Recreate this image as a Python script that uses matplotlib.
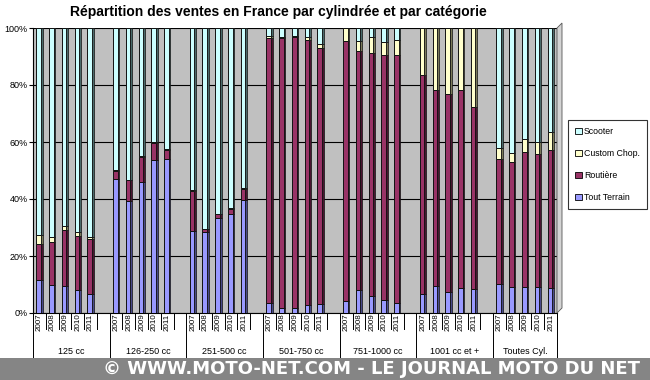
import numpy as np
import matplotlib
matplotlib.use("Agg")
import matplotlib.pyplot as plt
from matplotlib.patches import Rectangle, Polygon
from matplotlib.transforms import blended_transform_factory

plt.rcParams["font.family"] = ["Liberation Sans", "DejaVu Sans"]

# data (% of sales)
groups = ["125 cc", "126-250 cc", "251-500 cc", "501-750 cc",
          "751-1000 cc", "1001 cc et +", "Toutes Cyl."]
years = ["2007", "2008", "2009", "2010", "2011"]

tout_terrain = [
    11.7, 9.7, 9.5, 8.2, 6.8,
    46.9, 39.3, 46.0, 53.8, 54.2,
    28.7, 28.4, 33.2, 34.8, 39.6,
    3.5, 1.9, 1.9, 2.7, 3.0,
    4.1, 8.2, 5.9, 4.5, 3.6,
    6.6, 9.5, 7.4, 8.8, 8.4,
    10.3, 9.1, 9.0, 9.0, 8.6,
]
routiere = [
    12.4, 15.3, 19.5, 18.8, 19.2,
    3.0, 7.2, 8.9, 6.0, 3.0,
    14.1, 0.9, 1.5, 1.7, 4.0,
    93.0, 94.7, 94.9, 93.2, 90.0,
    91.2, 83.6, 85.5, 86.1, 87.0,
    77.0, 68.8, 69.5, 69.5, 63.8,
    43.9, 43.8, 47.5, 46.7, 48.5,
]
custom_chop = [
    3.4, 1.5, 1.5, 1.4, 0.7,
    0.3, 0.2, 0.2, 0.2, 0.2,
    0.2, 0.2, 0.2, 0.2, 0.2,
    0.8, 0.3, 0.3, 1.1, 1.4,
    4.7, 3.5, 5.4, 4.4, 5.1,
    16.4, 21.7, 23.1, 21.7, 27.8,
    3.8, 3.4, 4.5, 4.4, 6.4,
]
scooter = [
    72.5, 73.5, 69.5, 71.6, 73.3,
    49.8, 53.3, 44.9, 40.0, 42.6,
    57.0, 70.5, 65.1, 63.3, 56.2,
    2.7, 3.1, 2.9, 3.0, 5.6,
    0.0, 4.7, 3.2, 5.0, 4.3,
    0.0, 0.0, 0.0, 0.0, 0.0,
    42.0, 43.7, 39.0, 39.9, 36.5,
]

series = [
    ("Tout Terrain", tout_terrain, "#9999ff", "#4a4a8a"),
    ("Routière", routiere, "#993366", "#4a1530"),
    ("Custom Chop.", custom_chop, "#ffffcc", "#7a7a5a"),
    ("Scooter", scooter, "#ccffff", "#4a6a6a"),
]

W, H = 650, 380
fig = plt.figure(figsize=(W / 100, H / 100), dpi=100)
ax_l, ax_r, ax_t, ax_b = 33, 557, 28, 313
ax = fig.add_axes([ax_l / W, 1 - ax_b / H, (ax_r - ax_l) / W, (ax_b - ax_t) / H])
ax.set_facecolor("#c0c0c0")

n_slots = 6 * len(groups) - 1
pos = np.array([6 * g + j for g in range(len(groups)) for j in range(len(years))])

face_w = 0.36
side_w = 0.13
bottom = np.zeros(len(pos))
for name, vals, col, dark in series:
    vals = np.array(vals)
    ax.bar(pos - 0.06, vals, face_w, bottom=bottom, color=col,
           edgecolor="#111111", linewidth=0.7, zorder=3)
    ax.bar(pos - 0.06 + face_w / 2 + side_w / 2, vals, side_w, bottom=bottom,
           color=dark, edgecolor="#111111", linewidth=0.5, zorder=3)
    bottom += vals

ax.set_xlim(-0.5, n_slots - 0.5)
ax.set_ylim(0, 100)
ax.set_yticks(np.arange(0, 101, 20))
ax.set_yticklabels([f"{v}%" for v in range(0, 101, 20)], fontsize=6.5)
ax.yaxis.grid(True, color="#000000", linewidth=0.8)
ax.set_axisbelow(True)
ax.set_xticks([])
ax.tick_params(axis="y", length=3, width=0.8, pad=1)
for s in ["top", "right"]:
    ax.spines[s].set_visible(False)
ax.spines["left"].set_linewidth(0.8)
ax.spines["bottom"].set_linewidth(0.8)

# 3D side wall on the right
px = lambda x, y: (x / W, 1 - y / H)
fig.patches.append(Polygon([px(557, 313), px(562, 308), px(562, 23), px(557, 28)],
                           closed=True, facecolor="#d4d4d4", edgecolor="#555555",
                           linewidth=0.6, transform=fig.transFigure))

# category axis: years and groups
trans = blended_transform_factory(ax.transData, ax.transAxes)
pxh = 1.0 / (ax_b - ax_t)
for g, gname in enumerate(groups):
    start = 6 * g - 0.5
    for j, yr in enumerate(years):
        p = 6 * g + j
        ax.text(p, -9 * pxh, yr, rotation=90, ha="center", va="center",
                fontsize=5.8, transform=trans, clip_on=False)
        ax.plot([p + 0.5, p + 0.5], [0, -16 * pxh], color="black", lw=0.7,
                transform=trans, clip_on=False)
    end = min(6 * g + 5.5, n_slots - 0.5)
    ax.plot([start, start], [0, -45 * pxh], color="black", lw=0.7,
            transform=trans, clip_on=False)
    ax.text((start + end) / 2, -39 * pxh, gname, ha="center", va="center",
            fontsize=6.5, transform=trans, clip_on=False)
ax.plot([n_slots - 0.5] * 2, [0, -45 * pxh], color="black", lw=0.7,
        transform=trans, clip_on=False)

fig.text(278 / W, 1 - 12 / H,
         "Répartition des ventes en France par cylindrée et par catégorie",
         ha="center", va="center", fontsize=10, fontweight="bold")

# legend
handles = [Rectangle((0, 0), 1, 1, facecolor=c, edgecolor="black", linewidth=0.6)
           for _, _, c, _ in series[::-1]]
labels = [n for n, _, _, _ in series[::-1]]
leg = fig.legend(handles, labels, loc="upper right",
                 bbox_to_anchor=(647 / W, 1 - 120 / H), fontsize=6.3,
                 frameon=True, fancybox=False, edgecolor="black",
                 handlelength=0.7, handleheight=0.7, handletextpad=0.3,
                 labelspacing=1.5, borderpad=0.8, borderaxespad=0)
leg.get_frame().set_linewidth(0.8)

# bottom banner
fig.patches.append(Rectangle((0, 0), 1, 22 / H, facecolor="#858585",
                             edgecolor="none", transform=fig.transFigure))
fig.text(640 / W, 10.5 / H, "© WWW.MOTO-NET.COM - LE JOURNAL MOTO DU NET",
         ha="right", va="center", color="white", fontsize=13,
         fontweight="bold", family="DejaVu Sans")

fig.savefig("out.png", dpi=100)
